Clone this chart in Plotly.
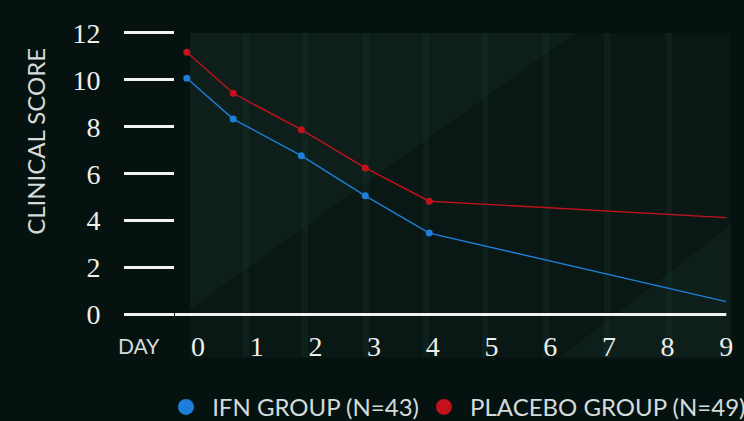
import plotly.graph_objects as go

days = [-0.19, 0.6, 1.76, 2.85, 3.94, 9.0]
ifn_score = [10.07, 8.33, 6.77, 5.06, 3.47, 0.55]
placebo_score = [11.18, 9.43, 7.88, 6.25, 4.83, 4.13]
marker_count = 5  # points with dots (last point has none)
x_ticks = [0, 1, 2, 3, 4, 5, 6, 7, 8, 9]
y_ticks = [0, 2, 4, 6, 8, 10, 12]
ifn_name = "\u00a0IFN GROUP (N=43)"
placebo_name = "\u00a0PLACEBO GROUP (N=49)"

BLUE = "#1d7fd9"
RED = "#c3121c"
TEXT = "#d3dcdb"
BG = "#061210"
PLOT = "#091815"
LIGHT = "#0e1f1b"

W, H = 744, 421
L, R, T = 175, 9, 20
BOT = 318.5
XR = [(L - 198) / 58.7, (W - R - 198) / 58.7]
YR = [-(BOT - 315) / 23.5, (315 - T) / 23.5]

def px_x(p):
    return (p - L) / (W - R - L)

def px_y(p):
    return (BOT - p) / (BOT - T)

fig = go.Figure()

fig.add_trace(go.Scatter(x=days, y=ifn_score, mode="lines", line=dict(color=BLUE, width=1.4),
                         showlegend=False, hoverinfo="skip"))
fig.add_trace(go.Scatter(x=days[:marker_count], y=ifn_score[:marker_count], mode="markers",
                         marker=dict(color=BLUE, size=7), showlegend=False))
fig.add_trace(go.Scatter(x=days, y=placebo_score, mode="lines", line=dict(color=RED, width=1.4),
                         showlegend=False, hoverinfo="skip"))
fig.add_trace(go.Scatter(x=days[:marker_count], y=placebo_score[:marker_count], mode="markers",
                         marker=dict(color=RED, size=7), showlegend=False))
# legend entries
fig.add_trace(go.Scatter(x=[None], y=[None], mode="markers", name=ifn_name,
                         marker=dict(color=BLUE, size=20)))
fig.add_trace(go.Scatter(x=[None], y=[None], mode="markers", name=placebo_name,
                         marker=dict(color=RED, size=20)))

shapes = []
# panel behind the chart
shapes.append(dict(type="rect", xref="paper", yref="paper", x0=px_x(190), x1=px_x(731),
                   y0=px_y(358), y1=px_y(33), fillcolor=PLOT, line=dict(width=0), layer="below"))
# lighter upper-left triangle
shapes.append(dict(type="path", xref="paper", yref="paper",
                   path=f"M {px_x(190)} {px_y(33)} L {px_x(575)} {px_y(33)} L {px_x(190)} {px_y(310)} Z",
                   fillcolor=LIGHT, line=dict(width=0), layer="below"))
# lighter lower-right triangle
shapes.append(dict(type="path", xref="paper", yref="paper",
                   path=f"M {px_x(731)} {px_y(225)} L {px_x(731)} {px_y(358)} L {px_x(560)} {px_y(358)} Z",
                   fillcolor=LIGHT, line=dict(width=0), layer="below"))
# faint vertical stripes
for sx in [246, 305, 366, 426, 485, 546, 607, 669]:
    shapes.append(dict(type="rect", xref="paper", yref="paper", x0=px_x(sx - 3), x1=px_x(sx + 3),
                       y0=px_y(358), y1=px_y(33), fillcolor="rgba(40,85,68,0.14)",
                       line=dict(width=0), layer="below"))
# baseline
shapes.append(dict(type="line", xref="x", yref="y", x0=XR[0], x1=9.0, y0=0, y1=0,
                   line=dict(color="#f2f2f0", width=3)))
fig.update_layout(shapes=shapes)

fig.add_annotation(text="DAY", xref="paper", yref="paper", x=px_x(139), y=px_y(346),
                   xanchor="center", yanchor="middle",
                   showarrow=False, font=dict(family="Lato", size=21, color=TEXT))
fig.add_annotation(text="CLINICAL SCORE", xref="paper", yref="paper", x=px_x(36), y=px_y(142),
                   xanchor="center", yanchor="middle",
                   showarrow=False, textangle=-90, font=dict(family="Lato", size=24, color=TEXT))

fig.update_layout(
    width=W, height=H,
    margin=dict(l=L, r=R, t=T, b=H - BOT, autoexpand=False),
    paper_bgcolor=BG, plot_bgcolor="rgba(0,0,0,0)",
    xaxis=dict(range=XR, tickvals=x_ticks, ticktext=[str(v) for v in x_ticks],
               showgrid=False, zeroline=False, showline=False, ticks="",
               tickfont=dict(family="Liberation Serif", size=28, color="#eeeeea"),
               ticklabelstandoff=9, fixedrange=True, automargin=False),
    yaxis=dict(range=YR, tickvals=y_ticks, ticktext=[str(v) for v in y_ticks],
               showgrid=False, zeroline=False, showline=False, ticks="outside",
               ticklen=50, tickwidth=2.5, tickcolor="#f2f2f0",
               tickfont=dict(family="Liberation Serif", size=28, color="#eeeeea"),
               ticklabelstandoff=18, fixedrange=True, automargin=False),
    legend=dict(orientation="h", x=px_x(166), y=px_y(408), xanchor="left", yanchor="middle",
                font=dict(family="Lato", size=24, color=TEXT), bgcolor="rgba(0,0,0,0)",
                itemclick=False, itemdoubleclick=False),
    showlegend=True,
)

fig.write_html("out.html", config={"displayModeBar": False},
               post_script="document.body.style.margin='0px';")
